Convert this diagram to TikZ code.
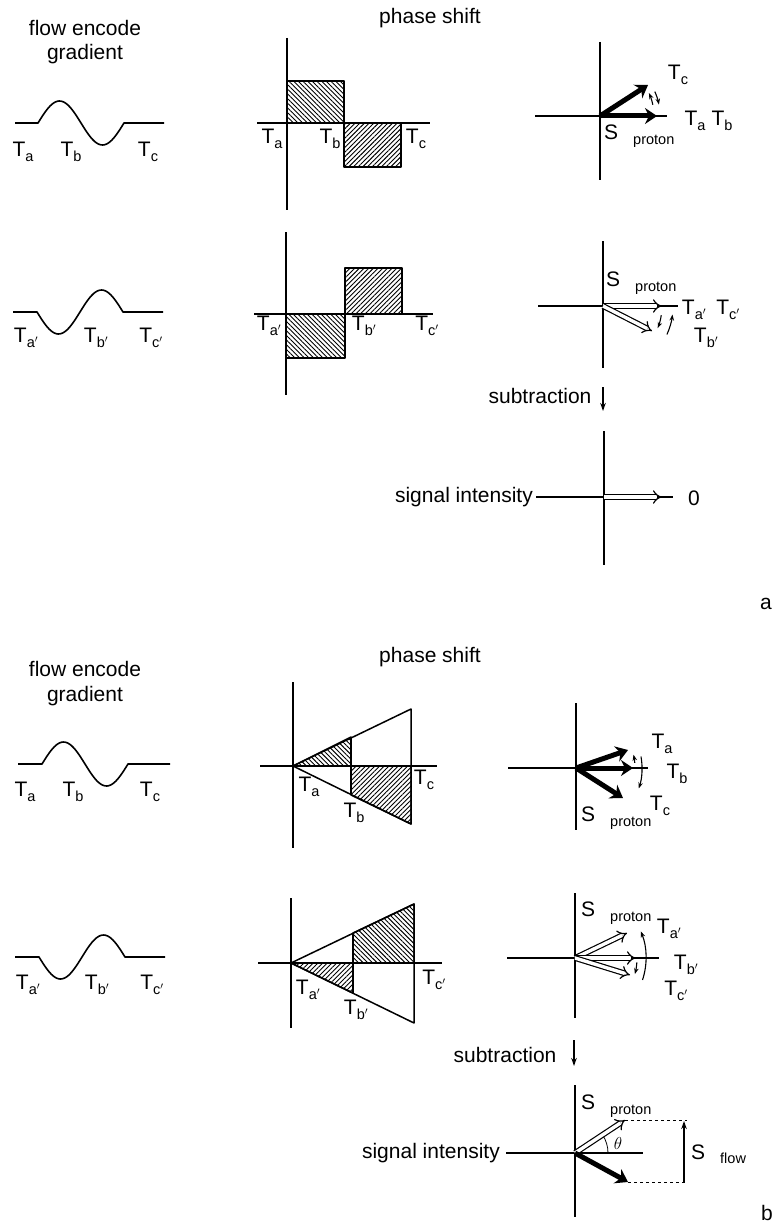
\documentclass[tikz,border=0pt]{standalone}
\usepackage{fontspec}
\setmainfont{Liberation Sans}
\usepackage{tikz}
\usetikzlibrary{arrows.meta, calc, patterns.meta}
\newcommand{\Tl}[1]{T\raisebox{-0.45ex}{\fontsize{14.5}{14.5}\selectfont #1}}
\newcommand{\Sl}[1]{S\hspace{15pt}\raisebox{-0.4ex}{\fontsize{14.5}{14.5}\selectfont #1}}

\begin{document}
\begin{tikzpicture}[x=1pt, y=-1pt, line join=round,
  every node/.style={font=\fontsize{21}{24}\selectfont, inner sep=0pt},
  axis/.style={line width=1.5pt},
  wave/.style={line width=1.6pt},
  hatchNW/.style={draw, line width=1.5pt, pattern={Lines[angle=-45, distance=3.3pt, line width=0.9pt]}},
  hatchNE/.style={draw, line width=1.5pt, pattern={Lines[angle=45, distance=3.3pt, line width=0.9pt]}},
  thickvec/.style={line width=5pt, -{Stealth[length=12pt, width=16pt, inset=4pt]}},
  openvec/.style={double, double distance=3.4pt, line width=1.2pt, -{Implies}},
  turn/.style={line width=1.1pt, -{Stealth[length=6pt, width=4.5pt]}},
  down/.style={line width=1.3pt, -{Stealth[length=8pt, width=5.5pt]}}]
  \useasboundingbox (0,0) rectangle (777,1225);

  % part a
  \node (fega) at (85,28) {flow encode};
  \node (grada) at (85,54) {gradient};
  \node (phsa) at (430,18) {phase shift};
  \node (lbla) at (766,604) {a};

  \draw[wave] (15,123) -- (38,123) -- plot[domain=38:124, samples=50] (\x, {123-22*sin((\x-38)/86*360)}) -- (164,123);
  \node (wa1) at (23,152) {\Tl{a}};
  \node (wb1) at (71,152) {\Tl{b}};
  \node (wc1) at (148,152) {\Tl{c}};
  \draw[wave] (13,312) -- (37,312) -- plot[domain=37:123, samples=50] (\x, {312+22*sin((\x-37)/86*360)}) -- (163,312);
  \node (wa2) at (26,338) {\Tl{a$'$}};
  \node (wb2) at (96,338) {\Tl{b$'$}};
  \node (wc2) at (151,338) {\Tl{c$'$}};

  \draw[hatchNW] (287,81) rectangle (344,123);
  \draw[hatchNE] (344,123) rectangle (401,167);
  \draw[axis] (287,38) -- (287,210);
  \draw[axis] (257,123) -- (430,123);
  \node (pa1) at (272,139) {\Tl{a}};
  \node (pb1) at (330,139) {\Tl{b}};
  \node (pc1) at (416,139) {\Tl{c}};

  \draw[hatchNE] (345,268) rectangle (402,314);
  \draw[hatchNW] (286,314) rectangle (345,358);
  \draw[axis] (286,232) -- (286,395);
  \draw[axis] (254,314) -- (433,314);
  \node (pa2) at (269,326) {\Tl{a$'$}};
  \node (pb2) at (364,326) {\Tl{b$'$}};
  \node (pc2) at (427,326) {\Tl{c$'$}};

  \coordinate (Oa1) at (600,116);
  \draw[axis] (600,42) -- (600,180);
  \draw[axis] (535,116) -- (667,116);
  \draw[thickvec] (Oa1) -- (657,116);
  \draw[thickvec] (Oa1) -- (648,85);
  \draw[turn] ([shift={(-12:54)}]Oa1) arc[start angle=-12, end angle=-25, radius=54];
  \draw[turn] ([shift={(-24:60)}]Oa1) arc[start angle=-24, end angle=-11, radius=60];
  \node[anchor=west] (sa1) at (604,136) {\Sl{proton}};
  \node (ta1) at (695,121) {\Tl{a}};
  \node (tb1) at (722,121) {\Tl{b}};
  \node (tc1) at (678,75) {\Tl{c}};

  \coordinate (Oa2) at (603,306);
  \draw[axis] (603,241) -- (603,368);
  \draw[axis] (538,306) -- (678,306);
  \draw[openvec] (Oa2) -- (662,306);
  \draw[openvec] (Oa2) -- (652,331);
  \draw[turn] ([shift={(9:59)}]Oa2) arc[start angle=9, end angle=22, radius=59];
  \draw[turn] ([shift={(24:70)}]Oa2) arc[start angle=24, end angle=7, radius=70];
  \node[anchor=west] (sa2) at (606,283) {\Sl{proton}};
  \node (ta2) at (694,310) {\Tl{a$'$}};
  \node (tc2) at (728,310) {\Tl{c$'$}};
  \node (tb2) at (706,338) {\Tl{b$'$}};

  \node (suba) at (540,396) {subtraction};
  \draw[down] (603,387) -- (603,411);

  \coordinate (Oa3) at (604,497);
  \node[anchor=east] (siga) at (533,497) {signal intensity};
  \draw[axis] (604,431) -- (604,565);
  \draw[axis] (siga.east) ++(3,0) -- (673,497);
  \draw[openvec] (Oa3) -- (662,497);
  \node (zero) at (694,498) {0};

  % part b
  \node (fegb) at (85,669) {flow encode};
  \node (gradb) at (85,696) {gradient};
  \node (phsb) at (430,657) {phase shift};
  \node (lblb) at (767,1213) {b};

  \draw[wave] (18,764) -- (42,764) -- plot[domain=42:128, samples=50] (\x, {764-22*sin((\x-42)/86*360)}) -- (170,764);
  \node (wa3) at (25,792) {\Tl{a}};
  \node (wb3) at (73,792) {\Tl{b}};
  \node (wc3) at (150,792) {\Tl{c}};
  \draw[wave] (15,957) -- (39,957) -- plot[domain=39:125, samples=50] (\x, {957+22*sin((\x-39)/86*360)}) -- (165,957);
  \node (wa4) at (28,985) {\Tl{a$'$}};
  \node (wb4) at (97,985) {\Tl{b$'$}};
  \node (wc4) at (152,985) {\Tl{c$'$}};

  \coordinate (Ob1) at (293,766);
  \draw[hatchNW] (Ob1) -- (351,737) -- (351,766) -- cycle;
  \draw[hatchNE] (351,766) -- (411,766) -- (411,824) -- (351,795) -- cycle;
  \draw[line width=1.5pt] (Ob1) -- (411,709) -- (411,824) -- cycle;
  \draw[line width=1.5pt] (351,737) -- (351,795);
  \draw[axis] (293,682) -- (293,848);
  \draw[axis] (260,766) -- (437,766);
  \node (pa3) at (309,787) {\Tl{a}};
  \node (pb3) at (354,813) {\Tl{b}};
  \node (pc3) at (424,780) {\Tl{c}};

  \coordinate (Ob2) at (291,963);
  \draw[hatchNW] (353,933) -- (414,904) -- (414,963) -- (353,963) -- cycle;
  \draw[hatchNE] (Ob2) -- (353,963) -- (353,993) -- cycle;
  \draw[line width=1.5pt] (Ob2) -- (414,904) -- (414,1023) -- cycle;
  \draw[line width=1.5pt] (353,933) -- (353,993);
  \draw[axis] (291,898) -- (291,1028);
  \draw[axis] (258,963) -- (442,963);
  \node (pa4) at (308,990) {\Tl{a$'$}};
  \node (pb4) at (356,1010) {\Tl{b$'$}};
  \node (pc4) at (434,980) {\Tl{c$'$}};

  \coordinate (Ob3) at (576,768);
  \draw[axis] (576,703) -- (576,830);
  \draw[axis] (508,768) -- (648,768);
  \draw[thickvec] (Ob3) -- (628,750);
  \draw[thickvec] (Ob3) -- (633,768);
  \draw[thickvec] (Ob3) -- (623,798);
  \draw[turn] ([shift={(-5:59)}]Ob3) arc[start angle=-5, end angle=-13, radius=59];
  \draw[turn] ([shift={(-10:66)}]Ob3) arc[start angle=-10, end angle=18, radius=66];
  \node[anchor=west] (sb1) at (581,818) {\Sl{proton}};
  \node (ta3) at (662,744) {\Tl{a}};
  \node (tb3) at (677,774) {\Tl{b}};
  \node (tc3) at (660,806) {\Tl{c}};

  \coordinate (Ob4) at (575,958);
  \draw[axis] (575,893) -- (575,1018);
  \draw[axis] (507,958) -- (659,958);
  \draw[openvec] (Ob4) -- (627,933);
  \draw[openvec] (Ob4) -- (636,958);
  \draw[openvec] (Ob4) -- (630,975);
  \draw[turn] ([shift={(4:62)}]Ob4) arc[start angle=4, end angle=15, radius=62];
  \draw[turn] ([shift={(18:71)}]Ob4) arc[start angle=18, end angle=-22, radius=71];
  \node[anchor=west] (sb2) at (581,913) {\Sl{proton}};
  \node (ta4) at (669,929) {\Tl{a$'$}};
  \node (tb4) at (686,965) {\Tl{b$'$}};
  \node (tc4) at (676,991) {\Tl{c$'$}};

  \node (subb) at (505,1055) {subtraction};
  \draw[down] (574,1040) -- (574,1066);

  \coordinate (Ob5) at (575,1153);
  \coordinate (Pp) at (625,1120);
  \coordinate (Pf) at (628,1182);
  \node[anchor=east] (sigb) at (500,1153) {signal intensity};
  \draw[axis] (575,1085) -- (575,1217);
  \draw[axis] (sigb.east) ++(6,0) -- (643,1153);
  \draw[line width=0.8pt] ([shift={(0:33)}]Ob5) arc[start angle=0, end angle=-33, radius=33];
  \node[font=\fontsize{18}{20}\selectfont] (th) at (618,1143) {$\theta$};
  \draw[openvec] (Ob5) -- (Pp);
  \draw[thickvec] (Ob5) -- (Pf);
  \draw[dashed, line width=1pt] (Pp) -- (687,1120);
  \draw[dashed, line width=1pt] (Pf) -- (687,1182);
  \draw[line width=1.2pt, -{Stealth[length=8pt, width=5.5pt]}] (684,1182) -- (684,1121);
  \node[anchor=west] (sb3) at (581,1106) {\Sl{proton}};
  \node[anchor=west] (sfl) at (691,1154) {\Sl{flow}};
\end{tikzpicture}
\end{document}
